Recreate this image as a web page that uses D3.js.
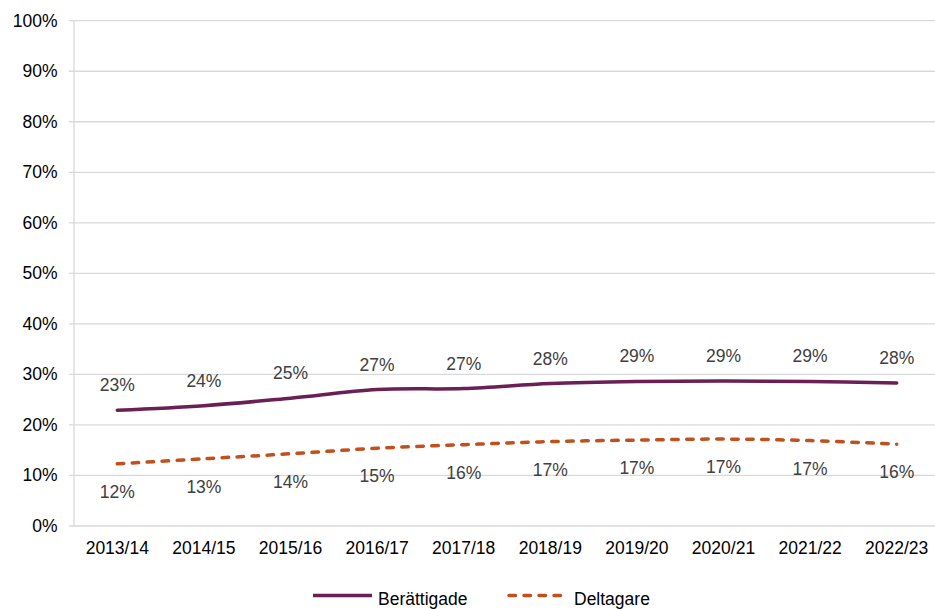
<!DOCTYPE html>
<html>
<head>
<meta charset="utf-8">
<script src="https://cdn.jsdelivr.net/npm/d3@7"></script>
<style>
  body { margin: 0; background: #fff; }
  text { font-family: 'Liberation Sans', Arial, sans-serif; }
</style>
</head>
<body>
<svg width="935" height="609"></svg>
<script>
const years = ['2013/14', '2014/15', '2015/16', '2016/17', '2017/18', '2018/19', '2019/20', '2020/21', '2021/22', '2022/23']
const berattigade = [22.9, 23.8, 25.3, 27.0, 27.2, 28.2, 28.6, 28.7, 28.6, 28.3]
const deltagare = [12.3, 13.3, 14.3, 15.4, 16.1, 16.7, 17.0, 17.2, 16.9, 16.2]
const yTicks = [0, 10, 20, 30, 40, 50, 60, 70, 80, 90, 100]

let svg = d3.select('svg')
let plotLeft = 74, plotRight = 940, plotTop = 20.7, plotBottom = 526

let x = d3.scaleBand().domain(years).range([plotLeft, plotRight])
let y = d3.scaleLinear().domain([0, 100]).range([plotBottom, plotTop])
let cx = d => x(d) + x.bandwidth() / 2

// gridlines
svg.append('g')
  .selectAll('line')
  .data(yTicks)
  .enter().append('line')
    .attr('x1', plotLeft - 5).attr('x2', plotRight)
    .attr('y1', d => y(d)).attr('y2', d => y(d))
    .attr('stroke', '#d9d9d9')
    .attr('stroke-width', 1.3)

svg.append('line')
  .attr('x1', plotLeft).attr('x2', plotLeft)
  .attr('y1', plotTop).attr('y2', plotBottom)
  .attr('stroke', '#d9d9d9')
  .attr('stroke-width', 1.3)

// y labels
svg.append('g')
  .selectAll('text')
  .data(yTicks)
  .enter().append('text')
    .attr('x', 57.5)
    .attr('y', d => y(d) + 6)
    .attr('text-anchor', 'end')
    .attr('font-size', 17.5)
    .attr('fill', '#000')
    .text(d => d + '%')

// x labels
svg.append('g')
  .selectAll('text')
  .data(years)
  .enter().append('text')
    .attr('x', d => cx(d))
    .attr('y', 554)
    .attr('text-anchor', 'middle')
    .attr('font-size', 17.5)
    .attr('fill', '#000')
    .text(d => d)

let line = d3.line()
  .x((d, i) => cx(years[i]))
  .y(d => y(d))
  .curve(d3.curveCatmullRom.alpha(0.5))

svg.append('path')
  .datum(berattigade)
  .attr('d', line)
  .attr('fill', 'none')
  .attr('stroke', '#6a1f55')
  .attr('stroke-width', 3.5)
  .attr('stroke-linecap', 'round')

svg.append('path')
  .datum(deltagare)
  .attr('d', line)
  .attr('fill', 'none')
  .attr('stroke', '#c0501c')
  .attr('stroke-width', 3.5)
  .attr('stroke-linecap', 'round')
  .attr('stroke-dasharray', '6.5,8.5')

// data labels
svg.append('g')
  .selectAll('text')
  .data(berattigade)
  .enter().append('text')
    .attr('x', (d, i) => cx(years[i]))
    .attr('y', d => y(d) - 19)
    .attr('text-anchor', 'middle')
    .attr('font-size', 17.5)
    .attr('fill', '#404040')
    .text(d => Math.round(d) + '%')

svg.append('g')
  .selectAll('text')
  .data(deltagare)
  .enter().append('text')
    .attr('x', (d, i) => cx(years[i]))
    .attr('y', d => y(d) + 34)
    .attr('text-anchor', 'middle')
    .attr('font-size', 17.5)
    .attr('fill', '#404040')
    .text(d => Math.round(d) + '%')

// legend
let legend = svg.append('g')
legend.append('line')
  .attr('x1', 313).attr('x2', 372).attr('y1', 595.5).attr('y2', 595.5)
  .attr('stroke', '#6a1f55').attr('stroke-width', 3.5)
legend.append('text')
  .attr('x', 378).attr('y', 605)
  .attr('font-size', 17.5).attr('fill', '#000')
  .text('Berättigade')
legend.append('line')
  .attr('x1', 509).attr('x2', 566).attr('y1', 595.5).attr('y2', 595.5)
  .attr('stroke', '#c0501c').attr('stroke-width', 3.5)
  .attr('stroke-linecap', 'round')
  .attr('stroke-dasharray', '6.5,8.5')
legend.append('text')
  .attr('x', 574).attr('y', 605)
  .attr('font-size', 17.5).attr('fill', '#000')
  .text('Deltagare')
</script>
</body>
</html>
